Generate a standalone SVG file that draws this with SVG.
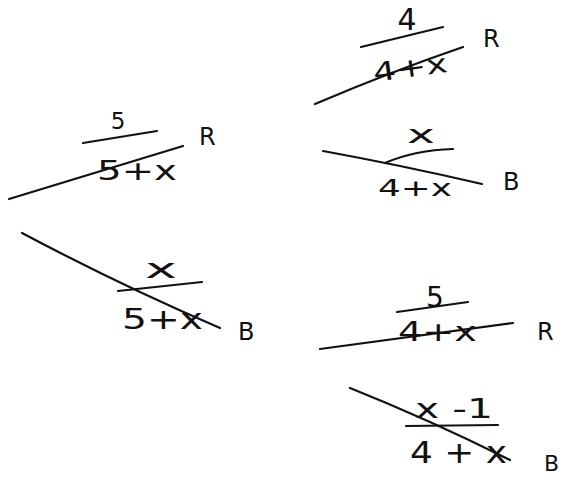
<svg xmlns="http://www.w3.org/2000/svg" width="562" height="477" viewBox="0 0 562 477">
<style>
.ln{stroke:#111;stroke-width:2.2;fill:none;stroke-linecap:round}
.t{font-family:"DejaVu Sans","Liberation Sans",sans-serif;fill:#111}
</style>
<rect width="562" height="477" fill="#fff"/>
<g id="connectors">
<path class="ln" d="M9,199 L183,146"/>
<path class="ln" d="M22,233 Q120,285 220,328"/>
<path class="ln" d="M315,104 Q390,72 463,47"/>
<path class="ln" d="M323,151 Q400,165 482,184"/>
<path class="ln" d="M320,349 L513,323"/>
<path class="ln" d="M350,388 Q430,420 510,460"/>
</g>
<g id="node-R1">
<path class="ln" d="M83,143 L157,131"/>
<text class="t" x="118" y="129" font-size="23" text-anchor="middle">5</text>
<text class="t" x="97" y="180" font-size="26" textLength="80" lengthAdjust="spacingAndGlyphs">5+x</text>
<text class="t" x="199" y="145" font-size="24">R</text>
</g>
<g id="node-B1">
<path class="ln" d="M118,291 L202,282"/>
<text class="t" x="145" y="278" font-size="26" textLength="32" lengthAdjust="spacingAndGlyphs">x</text>
<text class="t" x="122" y="329" font-size="28" textLength="81" lengthAdjust="spacingAndGlyphs">5+x</text>
<text class="t" x="238" y="340" font-size="24">B</text>
</g>
<g id="node-RR">
<path class="ln" d="M361,47 L443,27"/>
<text class="t" x="407" y="30" font-size="30" text-anchor="middle">4</text>
<text class="t" x="373" y="77" font-size="26" textLength="75" lengthAdjust="spacingAndGlyphs" transform="rotate(-8 410 70)">4+x</text>
<text class="t" x="483" y="47" font-size="24">R</text>
</g>
<g id="node-RB">
<path class="ln" d="M385,163 Q415,150 453,149"/>
<text class="t" x="407" y="143" font-size="24" textLength="28" lengthAdjust="spacingAndGlyphs">x</text>
<text class="t" x="378" y="196" font-size="23" textLength="74" lengthAdjust="spacingAndGlyphs">4+x</text>
<text class="t" x="503" y="190" font-size="24">B</text>
</g>
<g id="node-BR">
<path class="ln" d="M397,312 L468,302"/>
<text class="t" x="435" y="307" font-size="28" text-anchor="middle">5</text>
<text class="t" x="398" y="341" font-size="26" textLength="79" lengthAdjust="spacingAndGlyphs">4+x</text>
<text class="t" x="537" y="340" font-size="24">R</text>
</g>
<g id="node-BB">
<path class="ln" d="M406,426 L498,425"/>
<text class="t" x="415" y="418" font-size="26" textLength="78" lengthAdjust="spacingAndGlyphs">x -1</text>
<text class="t" x="410" y="463" font-size="30" textLength="97" lengthAdjust="spacingAndGlyphs">4 + x</text>
<text class="t" x="544" y="471" font-size="22">B</text>
</g>
</svg>
